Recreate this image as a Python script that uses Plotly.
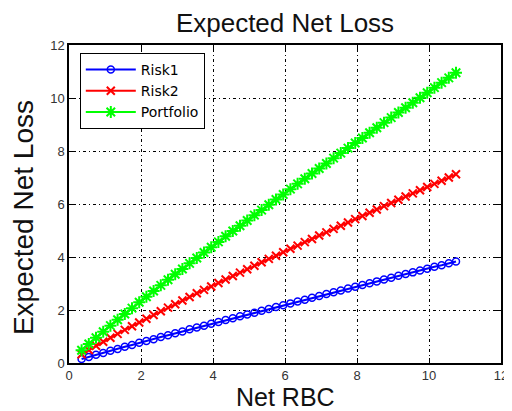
import plotly.graph_objects as go

net_rbc = [0.35, 0.55, 0.75, 0.95, 1.15, 1.35, 1.55, 1.75, 1.95, 2.15, 2.35, 2.55, 2.75,
           2.95, 3.15, 3.35, 3.55, 3.75, 3.95, 4.15, 4.35, 4.55, 4.75, 4.95, 5.15, 5.35,
           5.55, 5.75, 5.95, 6.15, 6.35, 6.55, 6.75, 6.95, 7.15, 7.35, 7.55, 7.75, 7.95,
           8.15, 8.35, 8.55, 8.75, 8.95, 9.15, 9.35, 9.55, 9.75, 9.95, 10.15, 10.35, 10.55, 10.75]

risk1 = [0.15, 0.23, 0.31, 0.38, 0.46, 0.53, 0.61, 0.68, 0.76, 0.83, 0.90, 0.98, 1.05,
         1.12, 1.19, 1.27, 1.34, 1.41, 1.48, 1.55, 1.62, 1.69, 1.76, 1.83, 1.90, 1.97,
         2.04, 2.11, 2.18, 2.25, 2.32, 2.39, 2.46, 2.53, 2.60, 2.67, 2.74, 2.81, 2.88,
         2.94, 3.01, 3.08, 3.15, 3.22, 3.29, 3.36, 3.42, 3.49, 3.56, 3.63, 3.69, 3.76, 3.83]

risk2 = [0.33, 0.49, 0.65, 0.80, 0.95, 1.10, 1.25, 1.39, 1.53, 1.67, 1.81, 1.95, 2.09,
         2.22, 2.36, 2.49, 2.63, 2.76, 2.89, 3.02, 3.15, 3.28, 3.41, 3.54, 3.67, 3.80,
         3.93, 4.05, 4.18, 4.31, 4.43, 4.56, 4.68, 4.81, 4.93, 5.06, 5.18, 5.30, 5.43,
         5.55, 5.67, 5.79, 5.92, 6.04, 6.16, 6.28, 6.40, 6.52, 6.64, 6.76, 6.88, 7.00, 7.12]

portfolio = [0.48, 0.72, 0.95, 1.18, 1.41, 1.63, 1.85, 2.07, 2.29, 2.50, 2.72, 2.93, 3.14,
             3.35, 3.55, 3.76, 3.96, 4.17, 4.37, 4.57, 4.78, 4.98, 5.18, 5.38, 5.58, 5.77,
             5.97, 6.17, 6.36, 6.56, 6.76, 6.95, 7.15, 7.34, 7.53, 7.73, 7.92, 8.11, 8.30,
             8.49, 8.69, 8.88, 9.07, 9.26, 9.45, 9.63, 9.82, 10.01, 10.20, 10.39, 10.58, 10.76, 10.95]

tick_vals = [0, 2, 4, 6, 8, 10, 12]

title_text = "Expected Net Loss"
x_title = "Net RBC"
y_title = "Expected Net Loss"

FONT = "Liberation Sans, Arial, sans-serif"
LEG_FONT = "DejaVu Sans, sans-serif"

fig = go.Figure()
fig.add_trace(go.Scatter(x=net_rbc, y=risk1, name="Risk1", mode="lines+markers",
                         line=dict(color="#0000ff", width=2),
                         marker=dict(symbol="circle-open", size=7, color="#0000ff",
                                     line=dict(width=1.5, color="#0000ff"))))
fig.add_trace(go.Scatter(x=net_rbc, y=risk2, name="Risk2", mode="lines+markers",
                         line=dict(color="#ff0000", width=2),
                         marker=dict(symbol="x-thin-open", size=8, color="#ff0000",
                                     line=dict(width=2, color="#ff0000"))))
fig.add_trace(go.Scatter(x=net_rbc, y=portfolio, name="Portfolio", mode="lines+markers",
                         line=dict(color="#00ff00", width=2),
                         marker=dict(symbol="asterisk-open", size=10, color="#00ff00",
                                     line=dict(width=2, color="#00ff00"))))

axis_common = dict(
    range=[0, 12], tickvals=tick_vals, ticktext=[str(v) for v in tick_vals],
    showline=True, linecolor="black", linewidth=1.5, mirror="allticks",
    ticks="inside", ticklen=5, tickcolor="black", tickwidth=1,
    showgrid=True, gridcolor="black", gridwidth=1, griddash="1px,3px,3px,3px",
    zeroline=False, automargin=False,
    tickfont=dict(family=FONT, size=13, color="#333333"),
)

fig.update_layout(
    width=504, height=403,
    margin=dict(l=61, r=11, t=37, b=48, autoexpand=False),
    paper_bgcolor="white", plot_bgcolor="white",
    title=dict(text=title_text, x=0.5496, xanchor="center", y=0.962, yanchor="middle",
               font=dict(family=FONT, size=26, color="#111111")),
    xaxis=dict(**axis_common),
    yaxis=dict(**axis_common),
    legend=dict(x=0.025, y=0.975, xanchor="left", yanchor="top",
                bgcolor="white", bordercolor="black", borderwidth=1,
                font=dict(family=LEG_FONT, size=14, color="black"),
                itemwidth=50, tracegroupgap=0),
    showlegend=True,
    annotations=[
        dict(text=x_title, xref="paper", yref="paper", x=0.5, y=-0.107,
             xanchor="center", yanchor="middle", showarrow=False,
             font=dict(family=FONT, size=25, color="#111111")),
        dict(text=y_title, xref="paper", yref="paper", x=-0.104, y=0.456,
             xanchor="center", yanchor="middle", showarrow=False, textangle=-90,
             font=dict(family=FONT, size=28, color="#111111")),
    ],
)

fig.write_html("out.html")
